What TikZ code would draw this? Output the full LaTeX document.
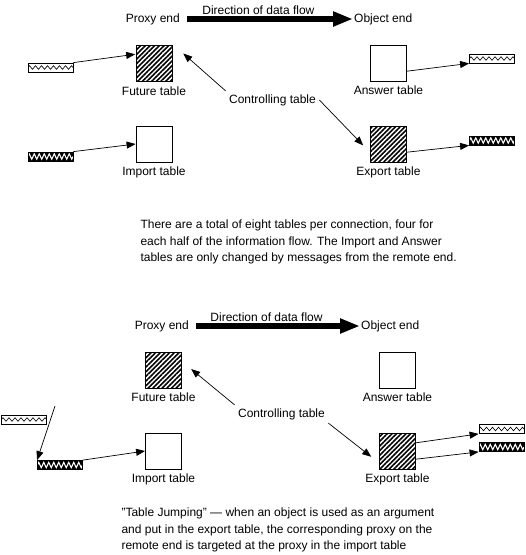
\documentclass[tikz,border=0pt]{standalone}
\usepackage{fontspec}
\setmainfont{Liberation Sans}[Ligatures=ResetAll]
\usetikzlibrary{arrows.meta, positioning, patterns.meta, decorations.pathmorphing}

\begin{document}
\begin{tikzpicture}[x=1pt, y=-1pt,
  font=\fontsize{12}{16.5}\selectfont,
  boxshape/.style={draw, line width=0.8pt, minimum size=36pt, inner sep=0pt},
  tablebox/.style={boxshape, fill=white},
  hatched/.style={boxshape, pattern={Lines[angle=45, distance=3.3pt, line width=1.6pt]}},
  lightbar/.style={draw, line width=0.8pt, fill=white, minimum width=45pt, minimum height=9pt, inner sep=0pt,
    path picture={\draw[line width=0.6pt, decorate, decoration={zigzag, segment length=6pt, amplitude=1.8pt}]
      (path picture bounding box.west) -- (path picture bounding box.east);}},
  darkbar/.style={draw, line width=0.8pt, fill=black, minimum width=45pt, minimum height=9pt, inner sep=0pt,
    path picture={\draw[white, line width=1.1pt, decorate, decoration={zigzag, segment length=5pt, amplitude=2.6pt}]
      (path picture bounding box.west) -- (path picture bounding box.east);}},
  endlabel/.style={inner sep=1pt},
  link/.style={-{Triangle[length=9pt, width=7pt]}, line width=0.7pt},
  flow/.style={-{Triangle[length=20pt, width=14pt]}, line width=5.5pt, shorten <=6pt}]
\useasboundingbox (0,0) rectangle (526,555);
\node[hatched] (futT) at (154,63) {};
\node[tablebox] (impT) at (154,144) {};
\node[tablebox] (ansT) at (388.5,63) {};
\node[hatched] (expT) at (388.5,144) {};
\node[below=1pt of futT] (futTlabel) {Future table};
\node[below=1pt of impT] (impTlabel) {Import table};
\node[below=1pt of ansT] (ansTlabel) {Answer table};
\node[below=1pt of expT] (expTlabel) {Export table};
\node[endlabel, anchor=east] (proxyT) at (181,19) {Proxy end};
\node[endlabel, anchor=west] (objT) at (353,19) {Object end};
\draw[flow] (proxyT) -- node[pos=0.45, above, inner sep=2pt] (flowT) {Direction of data flow} (objT);
\node (ctrlT) at (272.5,100) {Controlling table};
\node[lightbar] (futbarT) at (50.5,67.5) {};
\node[darkbar] (impbarT) at (50.5,156.5) {};
\node[lightbar] (ansbarT) at (492,58.5) {};
\node[darkbar] (expbarT) at (492,140.5) {};
\draw[link] (futbarT.north east) -- (futT.155);
\draw[link] (impbarT.north east) -- (impT.west);
\draw[link] (ansT.-24) -- (ansbarT.south west);
\draw[link] (expT.-24) -- (expbarT.south west);
\draw[link, shorten >=14pt] (ctrlT.north west) -- (futT.north east);
\draw[link, shorten >=10pt] (ctrlT.east) -- (expT.205);
\node[anchor=west, align=left] (noteT) at (137,242) {There are a total of eight tables per connection, four for\\
each half of the information flow. The Import and Answer\\
tables are only changed by messages from the remote end.};
\node[hatched] (futB) at (163.5,370) {};
\node[tablebox] (impB) at (163.5,451) {};
\node[tablebox] (ansB) at (397.5,370) {};
\node[hatched] (expB) at (397.5,451) {};
\node[below=1pt of futB] (futBlabel) {Future table};
\node[below=1pt of impB] (impBlabel) {Import table};
\node[below=1pt of ansB] (ansBlabel) {Answer table};
\node[below=1pt of expB] (expBlabel) {Export table};
\node[endlabel, anchor=east] (proxyB) at (190,326) {Proxy end};
\node[endlabel, anchor=west] (objB) at (360,326) {Object end};
\draw[flow] (proxyB) -- node[pos=0.45, above, inner sep=2pt] (flowB) {Direction of data flow} (objB);
\node (ctrlB) at (281.5,414) {Controlling table};
\node[lightbar] (jumpbarB) at (24,419.5) {};
\node[darkbar] (impbarB) at (60,465) {};
\node[lightbar] (proxybarB) at (501.5,429) {};
\node[darkbar] (expbarB) at (501.5,447) {};
\coordinate (jumpstart) at (55,406);
\draw[link] (jumpstart) -- (impbarB.north west);
\draw[link] (impbarB.north east) -- (impB.west);
\draw[link] (expB.24) -- (proxybarB.south west);
\draw[link] (expB.-24) -- (expbarB.south west);
\draw[link, shorten >=12pt] (ctrlB.north west) -- (futB.25);
\draw[link, shorten >=10pt] (ctrlB.south east) -- (expB.213);
\node[anchor=west, align=left] (noteB) at (118,530) {"Table Jumping" — when an object is used as an argument\\
and put in the export table, the corresponding proxy on the\\
remote end is targeted at the proxy in the import table};
\end{tikzpicture}
\end{document}
